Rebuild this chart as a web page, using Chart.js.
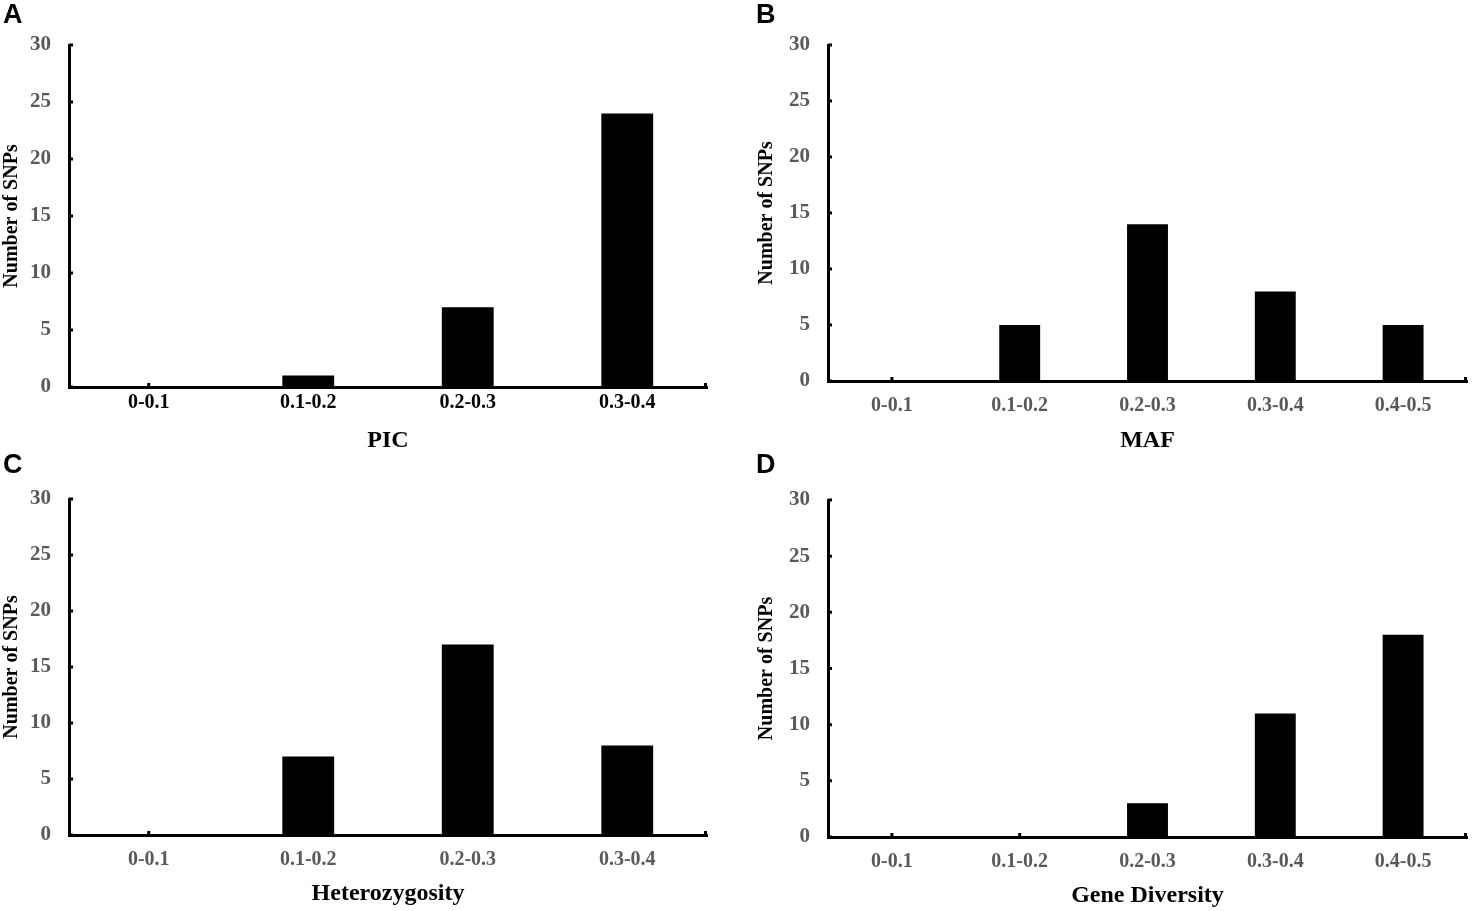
<!DOCTYPE html>
<html>
<head>
<meta charset="utf-8">
<script src="https://cdn.jsdelivr.net/npm/chart.js@4/dist/chart.umd.min.js"></script>
<style>
  html, body { margin: 0; padding: 0; background: #fff; }
  #wrap { position: relative; width: 1476px; height: 911px; overflow: hidden; }
  canvas { position: absolute; }
  .lbl { position: absolute; font: bold 27px "Liberation Sans", Arial, sans-serif; line-height: 27px; color: #000; }
</style>
</head>
<body>
<div id="wrap">
  <canvas id="cA" width="738" height="455" style="left:0;top:0"></canvas>
  <canvas id="cB" width="738" height="455" style="left:738px;top:0"></canvas>
  <canvas id="cC" width="738" height="456" style="left:0;top:455px"></canvas>
  <canvas id="cD" width="738" height="456" style="left:738px;top:455px"></canvas>
  <div class="lbl" style="left:3px;top:1px">A</div>
  <div class="lbl" style="left:756px;top:1px">B</div>
  <div class="lbl" style="left:3px;top:451px">C</div>
  <div class="lbl" style="left:756px;top:451px">D</div>
</div>
<script>
// ---- Data ----
const picCategories = ["0-0.1", "0.1-0.2", "0.2-0.3", "0.3-0.4"];
const picValues = [0, 1, 7, 24];

const mafCategories = ["0-0.1", "0.1-0.2", "0.2-0.3", "0.3-0.4", "0.4-0.5"];
const mafValues = [0, 5, 14, 8, 5];

const hetCategories = ["0-0.1", "0.1-0.2", "0.2-0.3", "0.3-0.4"];
const hetValues = [0, 7, 17, 8];

const gdCategories = ["0-0.1", "0.1-0.2", "0.2-0.3", "0.3-0.4", "0.4-0.5"];
const gdValues = [0, 0, 3, 11, 18];

const yTicks = [0, 5, 10, 15, 20, 25, 30];
const yTitle = "Number of SNPs";

const SERIF = '"Liberation Serif", "Times New Roman", serif';
const GRAY = '#595959';

// small inward tick marks
const tickMarks = {
  id: 'tickMarks',
  afterDraw(chart) {
    const {ctx, chartArea, scales: {x, y}} = chart;
    ctx.save();
    ctx.strokeStyle = '#000';
    ctx.lineWidth = 3;
    ctx.beginPath();
    yTicks.forEach(v => {
      const py = y.getPixelForValue(v);
      ctx.moveTo(chartArea.left, py);
      ctx.lineTo(chartArea.left + 4, py);
    });
    const n = chart.data.labels.length;
    for (let i = 0; i < n; i++) {
      const px = x.getPixelForValue(i);
      ctx.moveTo(px, chartArea.bottom);
      ctx.lineTo(px, chartArea.bottom - 4);
    }
    ctx.moveTo(chartArea.right - 1.5, chartArea.bottom);
    ctx.lineTo(chartArea.right - 1.5, chartArea.bottom - 4);
    ctx.stroke();
    ctx.restore();
  }
};

function makeChart(id, labels, values, cfg) {
  return new Chart(document.getElementById(id), {
    type: 'bar',
    data: {
      labels: labels,
      datasets: [{
        data: values,
        backgroundColor: '#000',
        borderWidth: 0,
        categoryPercentage: 1.0,
        barPercentage: cfg.barPct
      }]
    },
    plugins: [tickMarks],
    options: {
      responsive: false,
      animation: false,
      devicePixelRatio: 1,
      layout: { padding: { top: cfg.top, right: cfg.right, left: 0, bottom: 0 } },
      plugins: { legend: { display: false }, tooltip: { enabled: false } },
      scales: {
        x: {
          grid: { display: false, drawTicks: false },
          border: { display: true, color: '#000', width: 3 },
          ticks: {
            color: cfg.xColor,
            padding: cfg.xPad,
            font: { family: SERIF, size: 20, weight: 'bold' },
            maxRotation: 0
          },
          title: {
            display: true,
            text: cfg.xTitle,
            color: '#000',
            font: { family: SERIF, size: 24, weight: 'bold' },
            padding: { top: 0, bottom: cfg.xTitlePad }
          },
          afterFit(s) { s.height = cfg.xH; }
        },
        y: {
          min: 0, max: 30,
          afterBuildTicks(s) { s.ticks = yTicks.map(v => ({ value: v })); },
          grid: { display: false, drawTicks: false },
          border: { display: true, color: '#000', width: 3 },
          ticks: {
            color: GRAY,
            padding: 18,
            font: { family: SERIF, size: 21, weight: 'bold' }
          },
          title: {
            display: true,
            text: yTitle,
            color: '#000',
            font: { family: SERIF, size: 20, weight: 'bold' },
            padding: { top: cfg.yTitlePad, bottom: 0 }
          },
          afterFit(s) { s.width = cfg.yW; }
        }
      }
    }
  });
}

makeChart('cA', picCategories, picValues, {
  barPct: 0.325, top: 45, right: 31, xH: 68, yW: 69, xPad: 4, xTitlePad: 0,
  yTitlePad: 0, xTitle: 'PIC', xColor: '#000'
});
makeChart('cB', mafCategories, mafValues, {
  barPct: 0.32, top: 45, right: 9, xH: 74, yW: 90, xPad: 13, xTitlePad: 0,
  yTitlePad: 17, xTitle: 'MAF', xColor: GRAY
});
makeChart('cC', hetCategories, hetValues, {
  barPct: 0.325, top: 44, right: 31, xH: 76, yW: 69, xPad: 13, xTitlePad: 3,
  yTitlePad: 0, xTitle: 'Heterozygosity', xColor: GRAY
});
makeChart('cD', gdCategories, gdValues, {
  barPct: 0.32, top: 45, right: 9, xH: 74, yW: 90, xPad: 13, xTitlePad: 1,
  yTitlePad: 17, xTitle: 'Gene Diversity', xColor: GRAY
});
</script>
</body>
</html>
